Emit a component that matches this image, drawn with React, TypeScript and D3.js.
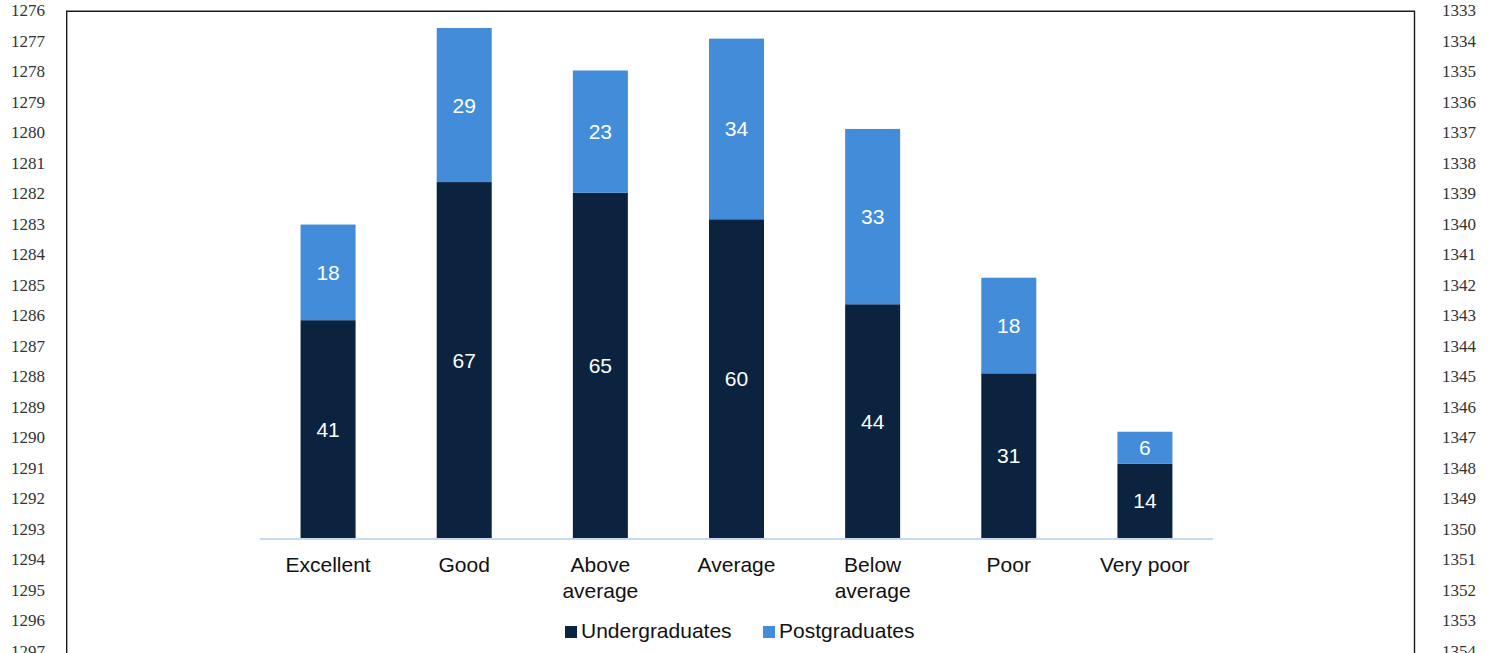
import React from "react";
import * as d3 from "d3";

const categories = ["Excellent", "Good", "Above average", "Average", "Below average", "Poor", "Very poor"];
const undergraduates = [41, 67, 65, 60, 44, 31, 14];
const postgraduates = [18, 29, 23, 34, 33, 18, 6];
const seriesNames = ["Undergraduates", "Postgraduates"];
const seriesColors = ["#0b233f", "#438cd9"];
const leftLineNumbers = d3.range(1276, 1298);
const rightLineNumbers = d3.range(1333, 1355);

const W = 1491;
const H = 653;
const FONT = "'Liberation Sans', Arial, sans-serif";
const SERIF = "'Liberation Serif', 'Times New Roman', serif";

export default function App() {
  const x = d3.scaleBand<string>().domain(categories).range([260, 1213]).paddingInner(0.596).paddingOuter(0.298);
  const y = d3.scaleLinear().domain([0, 96]).range([538, 28]);

  const rows = categories.map((c, i) => ({ category: c, Undergraduates: undergraduates[i], Postgraduates: postgraduates[i] }));
  const stacked = d3.stack<any>().keys(seriesNames)(rows);

  const lineY = d3.scaleLinear().domain([0, 1]).range([16, 46.5]);

  return (
    <svg width={W} height={H} style={{ position: "absolute", left: 0, top: 0, background: "#fff" }}>
      {/* page line numbers */}
      {leftLineNumbers.map((n, i) => (
        <text key={"l" + n} x={11} y={lineY(i)} fontFamily={SERIF} fontSize={17} fill="#333">{n}</text>
      ))}
      {rightLineNumbers.map((n, i) => (
        <text key={"r" + n} x={1442} y={lineY(i)} fontFamily={SERIF} fontSize={17} fill="#333">{n}</text>
      ))}

      {/* frame */}
      <path d={`M66.7,${H + 2} V11.3 H1414.5 V${H + 2}`} fill="none" stroke="#1a1a1a" strokeWidth={1.4} />

      {/* bars */}
      {stacked.map((s, si) => (
        <g key={s.key}>
          {s.map((d, i) => (
            <g key={i}>
              <rect x={x(categories[i])} width={x.bandwidth()} y={y(d[1])} height={y(d[0]) - y(d[1])} fill={seriesColors[si]} />
              <text
                x={(x(categories[i]) as number) + x.bandwidth() / 2}
                y={(y(d[0]) + y(d[1])) / 2}
                dy="0.36em"
                textAnchor="middle"
                fontFamily={FONT}
                fontSize={21}
                fill="#fff"
              >
                {d[1] - d[0]}
              </text>
            </g>
          ))}
        </g>
      ))}

      {/* category axis */}
      <line x1={260} x2={1213} y1={539} y2={539} stroke="#c6d9f1" strokeWidth={2.2} />
      {categories.map((c) => {
        const words = c.split(" ");
        const cx = (x(c) as number) + x.bandwidth() / 2;
        return (
          <text key={c} x={cx} y={572} textAnchor="middle" fontFamily={FONT} fontSize={21} fill="#111">
            {c === "Very poor" ? (
              <tspan x={cx}>{c}</tspan>
            ) : (
              words.map((w, wi) => (
                <tspan key={wi} x={cx} dy={wi === 0 ? 0 : 26}>{w}</tspan>
              ))
            )}
          </text>
        );
      })}

      {/* legend */}
      {seriesNames.map((name, i) => {
        const lx = [565, 763][i];
        return (
          <g key={name}>
            <rect x={lx} y={626} width={12} height={12} fill={seriesColors[i]} />
            <text x={lx + 16} y={638} fontFamily={FONT} fontSize={21} fill="#111">{name}</text>
          </g>
        );
      })}
    </svg>
  );
}
